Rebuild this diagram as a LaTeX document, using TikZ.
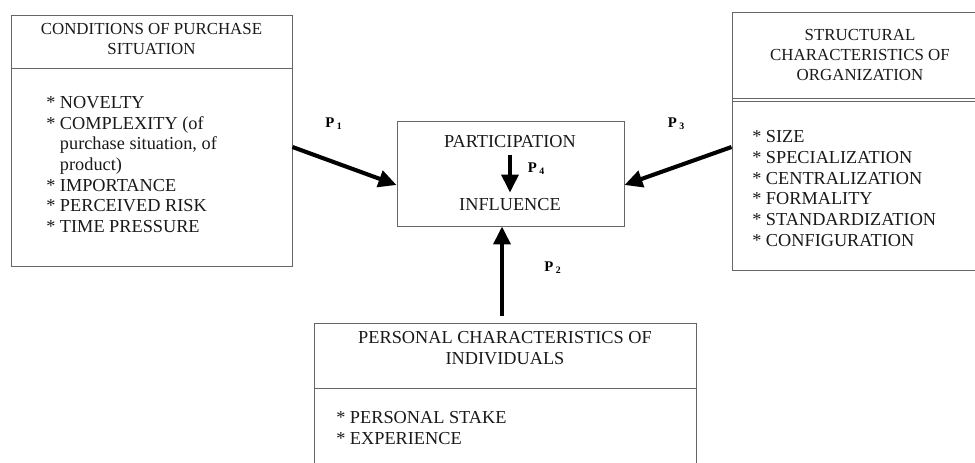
\documentclass[tikz,border=0pt]{standalone}
\usepackage{fontspec}
\setmainfont{Liberation Serif}
\usetikzlibrary{arrows.meta, calc}

\tikzset{
    box/.style={draw=black!60, line width=0.6pt, inner sep=0pt},
    txt/.style={text=black!90, align=center, inner sep=0pt, font=\fontsize{13}{14.4}\selectfont},
    ttl/.style={txt, font=\fontsize{12}{13.9}\selectfont},
    lst/.style={text=black!90, align=left, anchor=west, inner sep=0pt, font=\fontsize{13}{14.66}\selectfont},
    plabel/.style={inner sep=0pt, font=\fontsize{10.5}{12}\selectfont\bfseries},
    parrow/.style={line width=2.9pt, -{Triangle[length=4.5mm, width=4.2mm]}},
}
\newcommand{\pidx}[1]{P\,\raisebox{-0.3ex}{\scriptsize #1}}

\begin{document}
\begin{tikzpicture}[x=0.025cm, y=-0.025cm]
    \clip (0,0) rectangle (975,462);

    % boxes
    \node[box, minimum width=7.025cm, minimum height=6.275cm] at (151.5, 140.5) (purchase) {};
    \node[box, minimum width=6.4cm, minimum height=6.45cm] at (860, 141) (structure) {};
    \node[box, minimum width=5.675cm, minimum height=2.625cm] at (510.5, 173.5) (core) {};
    \node[box, minimum width=9.55cm, minimum height=4.175cm] at (505, 406.5) (personal) {};

    \draw[black!60, line width=0.6pt] (11, 68) -- (292, 68);
    \draw[black!60, line width=0.6pt] (732, 98) -- (988, 98);
    \draw[black!60, line width=0.6pt] (732, 101) -- (988, 101);
    \draw[black!60, line width=0.6pt] (314, 388) -- (696, 388);

    % titles
    \node[ttl] at (151.5, 39) (purchaset) {CONDITIONS OF PURCHASE\\SITUATION};
    \node[ttl] at (860, 55) (structuret) {STRUCTURAL\\CHARACTERISTICS OF\\ORGANIZATION};
    \node[txt] at (505, 348) (personalt) {PERSONAL CHARACTERISTICS OF\\INDIVIDUALS};

    % lists
    \node[lst] at (46, 164.5) (purchasel) {* NOVELTY\\* COMPLEXITY (of\\\hphantom{*}~purchase situation, of\\\hphantom{*}~product)\\* IMPORTANCE\\* PERCEIVED RISK\\* TIME PRESSURE};
    \node[lst] at (752, 188.5) (structurel) {* SIZE\\* SPECIALIZATION\\* CENTRALIZATION\\* FORMALITY\\* STANDARDIZATION\\* CONFIGURATION};
    \node[lst] at (336, 428) (personall) {* PERSONAL STAKE\\* EXPERIENCE};

    % centre
    \node[txt] at (510, 142) (part) {PARTICIPATION};
    \node[txt] at (510, 205) (infl) {INFLUENCE};

    \node[plabel] at (333.5, 124) (p1) {\pidx{1}};
    \node[plabel] at (552.5, 268) (p2) {\pidx{2}};
    \node[plabel] at (676, 124) (p3) {\pidx{3}};
    \node[plabel] at (536, 169) (p4) {\pidx{4}};

    \draw[parrow] ($(purchase.east)+(0,6.5)$) -- ($(core.west)+(0,11.5)$);
    \draw[parrow] ($(structure.west)+(0,6)$) -- ($(core.east)+(0,11.5)$);
    \draw[parrow] ($(personal.north)+(-3,-7)$) -- ($(core.south)+(-8.5,0)$);
    \draw[parrow, shorten <=1.6mm, shorten >=1.5mm] (part) -- (infl);
\end{tikzpicture}
\end{document}
